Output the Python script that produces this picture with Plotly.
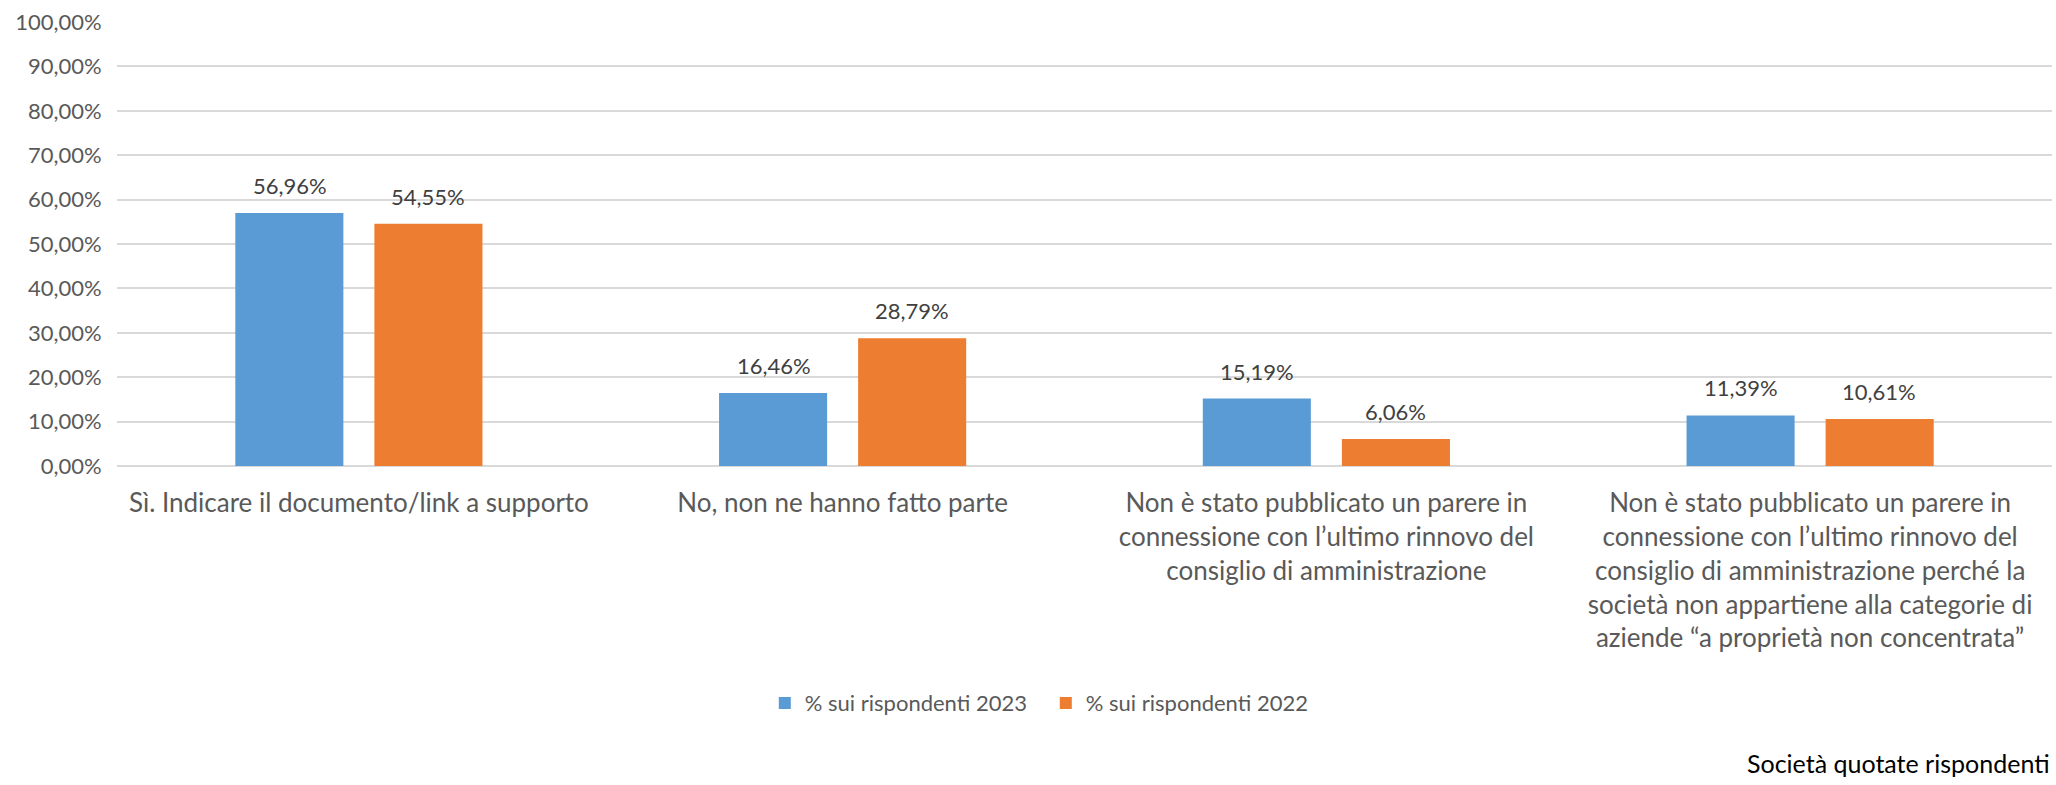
import plotly.graph_objects as go

categories = [
    "Sì. Indicare il documento/link a supporto",
    "No, non ne hanno fatto parte",
    "Non è stato pubblicato un parere in<br>connessione con l’ultimo rinnovo del<br>consiglio di amministrazione",
    "Non è stato pubblicato un parere in<br>connessione con l’ultimo rinnovo del<br>consiglio di amministrazione perché la<br>società non appartiene alla categorie di<br>aziende “a proprietà non concentrata”",
]
series_names = ["% sui rispondenti 2023", "% sui rispondenti 2022"]
values_2023 = [0.5696, 0.1646, 0.1519, 0.1139]
values_2022 = [0.5455, 0.2879, 0.0606, 0.1061]
y_ticks = [0, 0.1, 0.2, 0.3, 0.4, 0.5, 0.6, 0.7, 0.8, 0.9, 1.0]

colors = ["#5B9BD5", "#ED7D31"]
grey_text = "#595959"
font_name = "Lato"

fig = go.Figure()
for name, vals, col in zip(series_names, [values_2023, values_2022], colors):
    fig.add_trace(go.Bar(
        x=categories,
        y=vals,
        name=name,
        marker=dict(color=col, line=dict(width=0)),
    ))

# data labels above each bar
bar_shift = 69
for vals, xs in [(values_2023, -bar_shift), (values_2022, bar_shift)]:
    for cat, v in zip(categories, vals):
        fig.add_annotation(
            x=cat, y=v, xref="x", yref="y",
            text=f"{v * 100:.2f}%".replace(".", ","),
            showarrow=False,
            xshift=xs, yshift=12,
            yanchor="bottom",
            font=dict(family=font_name, size=22, color="#404040"),
        )

fig.add_annotation(
    x=1.0, y=-0.67, xref="paper", yref="paper",
    text="Società quotate rispondenti",
    showarrow=False, xanchor="right", yanchor="middle",
    font=dict(family=font_name, size=25, color="#000000"),
)

fig.update_layout(
    width=2056, height=785,
    margin=dict(l=117, r=4, t=22, b=319),
    paper_bgcolor="white",
    plot_bgcolor="white",
    separators=",.",
    barmode="group",
    bargap=0.425,
    bargroupgap=0.223,
    font=dict(family=font_name, color=grey_text),
    legend=dict(
        orientation="h",
        x=0.48, xanchor="center",
        y=-0.534, yanchor="middle",
        font=dict(family=font_name, size=22, color=grey_text),
        traceorder="normal",
        entrywidth=236,
    ),
)
fig.update_xaxes(
    showline=False,
    tickfont=dict(family=font_name, size=26, color=grey_text),
    ticks="outside", ticklen=14, tickcolor="rgba(0,0,0,0)",
)
fig.update_yaxes(
    range=[0, 1.0],
    tickvals=y_ticks,
    tickformat=".2%",
    showgrid=True, gridcolor="#D9D9D9", gridwidth=1.5,
    zeroline=True, zerolinecolor="#D9D9D9", zerolinewidth=1.5,
    tickfont=dict(family=font_name, size=22, color=grey_text),
    ticks="outside", ticklen=10, tickcolor="rgba(0,0,0,0)",
)

fig.write_html("out.html", config={"displayModeBar": False},
               post_script="document.body.style.margin='0px';")
